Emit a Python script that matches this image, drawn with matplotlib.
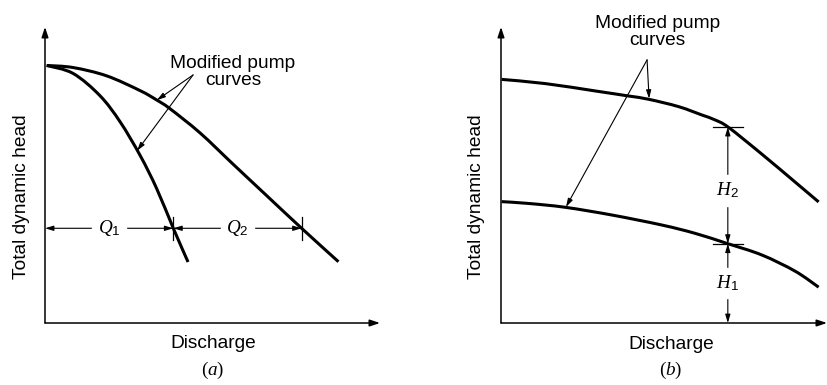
import matplotlib.pyplot as plt
from matplotlib.path import Path
from matplotlib.patches import PathPatch

plt.rcParams['font.family'] = 'Liberation Sans'
plt.rcParams['mathtext.fontset'] = 'custom'
plt.rcParams['mathtext.rm'] = 'Liberation Serif'
plt.rcParams['mathtext.it'] = 'Liberation Serif:italic'
plt.rcParams['mathtext.sf'] = 'Liberation Sans'

# (a) pumps in parallel: discharge vs head for each modified curve
q_steep = [0.05, 0.84, 1.64, 2.24, 2.84, 3.33, 3.83, 4.27]
h_steep = [8.70, 8.43, 7.68, 6.80, 5.66, 4.55, 3.20, 2.06]
q_wide = [0.05, 0.84, 1.84, 2.84, 3.34, 3.73, 4.63, 5.62, 6.62, 7.66, 8.76]
h_wide = [8.70, 8.63, 8.35, 7.85, 7.53, 7.24, 6.42, 5.36, 4.30, 3.20, 2.07]
h_op = 3.20
q1_end, q2_end = 3.83, 7.66

# (b) pumps in series
q_upper = [0.02, 1.31, 2.81, 3.80, 4.40, 5.30, 5.99, 6.39, 6.79, 7.78, 8.78, 9.48]
h_upper = [8.23, 8.09, 7.84, 7.67, 7.56, 7.31, 7.03, 6.86, 6.61, 5.71, 4.76, 4.09]
q_lower = [0.02, 0.81, 1.91, 3.30, 4.80, 5.79, 6.74, 7.78, 8.78, 9.48]
h_lower = [4.10, 4.04, 3.91, 3.65, 3.31, 3.03, 2.69, 2.30, 1.75, 1.21]
q_op = 6.77
h1_top, h2_top = 2.68, 6.62

W, H = 827, 385
fig = plt.figure(figsize=(W / 100, H / 100), dpi=100)


def px_axes(x0, y0, x1, y1):
    # axes rectangle from pixel corners, origin at top-left
    return fig.add_axes([x0 / W, 1 - y1 / H, (x1 - x0) / W, (y1 - y0) / H])


def smooth_curve(ax, xs, ys, lw=2.2):
    # Catmull-Rom through the points, drawn as cubic Bezier segments
    pts = list(zip(xs, ys))
    verts = [pts[0]]
    codes = [Path.MOVETO]
    n = len(pts)
    for i in range(n - 1):
        p0 = pts[max(i - 1, 0)]
        p1 = pts[i]
        p2 = pts[i + 1]
        p3 = pts[min(i + 2, n - 1)]
        c1 = (p1[0] + (p2[0] - p0[0]) / 6, p1[1] + (p2[1] - p0[1]) / 6)
        c2 = (p2[0] - (p3[0] - p1[0]) / 6, p2[1] - (p3[1] - p1[1]) / 6)
        verts += [c1, c2, p2]
        codes += [Path.CURVE4] * 3
    ax.add_patch(PathPatch(Path(verts, codes), fill=False, lw=lw,
                           edgecolor='black', capstyle='butt', clip_on=False))


ax_a = px_axes(45, 27, 380, 323)
ax_b = px_axes(501, 27, 827, 323)
ax_a.set_xlim(0, 10)
ax_b.set_xlim(0, 9.73)
for ax in (ax_a, ax_b):
    ax.set_ylim(0, 10)
    ax.axis('off')
    xmax = ax.get_xlim()[1]
    axis_arrow = dict(arrowstyle='-|>,head_length=0.6,head_width=0.2', lw=1.1,
                      color='black', shrinkA=0, shrinkB=0)
    ax.annotate('', xy=(xmax, 0), xytext=(0, 0), arrowprops=axis_arrow,
                annotation_clip=False)
    ax.annotate('', xy=(0, 10), xytext=(0, 0), arrowprops=axis_arrow,
                annotation_clip=False)

thin = dict(arrowstyle='-|>,head_length=0.5,head_width=0.15', lw=0.8,
            color='black', shrinkA=0, shrinkB=0)
dbl = dict(thin, arrowstyle='<|-|>,head_length=0.5,head_width=0.15')
fs = 13.8

# ---- panel (a)
smooth_curve(ax_a, q_steep, h_steep)
smooth_curve(ax_a, q_wide, h_wide)
ax_a.annotate('', xy=(0, h_op), xytext=(q1_end, h_op), arrowprops=dbl)
ax_a.annotate('', xy=(q1_end, h_op), xytext=(q2_end, h_op), arrowprops=dbl)
for q in (q1_end, q2_end):
    ax_a.plot([q, q], [h_op - 0.38, h_op + 0.38], color='black', lw=0.9)
ax_a.text(q1_end / 2, h_op, r'$Q_\mathsf{1}$', fontsize=fs, ha='center',
          va='center', backgroundcolor='white')
ax_a.text((q1_end + q2_end) / 2, h_op, r'$Q_\mathsf{2}$', fontsize=fs,
          ha='center', va='center', backgroundcolor='white')
ax_a.text(5.61, 8.48, 'Modified pump\ncurves', fontsize=fs, ha='center',
          va='center', linespacing=1.0)
for tip in [(3.34, 7.53), (2.75, 5.82)]:
    ax_a.annotate('', xy=tip, xytext=(4.42, 8.38), arrowprops=thin)
ax_a.text(-0.69, 4.26, 'Total dynamic head', fontsize=fs, rotation=90,
          ha='center', va='center')
ax_a.text(5.01, -0.68, 'Discharge', fontsize=fs, ha='center', va='center')
ax_a.text(5.01, -1.59, r'$(a)$', fontsize=fs, ha='center', va='center')

# ---- panel (b)
smooth_curve(ax_b, q_upper, h_upper)
smooth_curve(ax_b, q_lower, h_lower)
ax_b.annotate('', xy=(q_op, h1_top), xytext=(q_op, h2_top), arrowprops=dbl)
ax_b.annotate('', xy=(q_op, 0), xytext=(q_op, h1_top), arrowprops=dbl)
for h in (h1_top, h2_top):
    ax_b.plot([q_op - 0.45, q_op + 0.45], [h, h], color='black', lw=0.9)
ax_b.text(q_op, 4.49, r'$H_\mathsf{2}$', fontsize=fs, ha='center',
          va='center', backgroundcolor='white')
ax_b.text(q_op, 1.35, r'$H_\mathsf{1}$', fontsize=fs, ha='center',
          va='center', backgroundcolor='white')
ax_b.text(4.66, 9.83, 'Modified pump\ncurves', fontsize=fs, ha='center',
          va='center', linespacing=1.0)
for tip in [(4.42, 7.58), (1.94, 3.92)]:
    ax_b.annotate('', xy=tip, xytext=(4.36, 8.89), arrowprops=thin)
ax_b.text(-0.72, 4.26, 'Total dynamic head', fontsize=fs, rotation=90,
          ha='center', va='center')
ax_b.text(5.07, -0.74, 'Discharge', fontsize=fs, ha='center', va='center')
ax_b.text(5.07, -1.59, r'$(b)$', fontsize=fs, ha='center', va='center')

fig.savefig('out.png', dpi=100)
